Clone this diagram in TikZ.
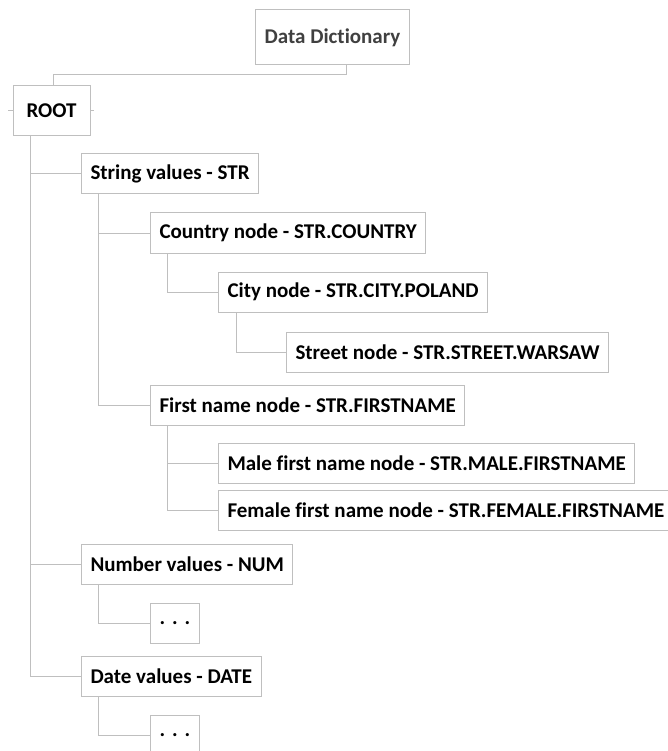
\documentclass[tikz,border=0pt]{standalone}
\usepackage{fontspec}
\setmainfont{Carlito}[Ligatures=NoCommon]
\definecolor{linegray}{HTML}{BFBFBF}
\definecolor{titlegray}{HTML}{404040}
\tikzset{
  box/.style={draw=linegray, fill=white, line width=1pt, font=\fontsize{21}{25}\selectfont\bfseries,
    inner xsep=9pt, minimum height=40pt, anchor=west},
  link/.style={draw=linegray, line width=1pt}
}
\begin{document}
\begin{tikzpicture}[x=1pt,y=-1pt]
    \useasboundingbox (0,0) rectangle (668,751);

    % tree nodes
    \node[box, anchor=center, minimum width=141pt, minimum height=55pt, text=titlegray] (dict) at (332.5,37.5) {Data Dictionary};
    \node[box, anchor=center, minimum width=77pt, minimum height=50pt] (root) at (51.5,111) {ROOT};
    \node[box] (str) at (81,174) {String values - STR};
    \node[box] (country) at (150,233) {Country node - STR.COUNTRY};
    \node[box] (city) at (218,292) {City node - STR.CITY.POLAND};
    \node[box] (street) at (286,352) {Street node - STR.STREET.WARSAW};
    \node[box] (first) at (150,405) {First name node - STR.FIRSTNAME};
    \node[box] (male) at (218,463) {Male first name node - STR.MALE.FIRSTNAME};
    \node[box] (female) at (218,510) {Female first name node - STR.FEMALE.FIRSTNAME};
    \node[box] (num) at (81,564) {Number values - NUM};
    \node[box, minimum width=43pt] (numdots) at (150,623) {.\,\,.\,\,.};
    \node[box] (date) at (81,676) {Date values - DATE};
    \node[box, minimum width=43pt] (datedots) at (150,735) {.\,\,.\,\,.};

    % connectors
    \draw[link] ([xshift=13.5pt]dict.south) -- ++(0,9) -| ([xshift=1.5pt]root.north);
    \draw[link] (root.west) -- ++(-5,0);
    \draw[link] (root.east) -- ++(3,0);
    \foreach \child in {str,num,date}
        \draw[link] ([xshift=18pt]root.south west) |- (\child.west);
    \foreach \child in {country,first}
        \draw[link] ([xshift=17pt]str.south west) |- (\child.west);
    \draw[link] ([xshift=17pt]country.south west) |- (city.west);
    \draw[link] ([xshift=18pt]city.south west) |- (street.west);
    \foreach \child in {male,female}
        \draw[link] ([xshift=17pt]first.south west) |- (\child.west);
    \draw[link] ([xshift=17pt]num.south west) |- (numdots.west);
    \draw[link] ([xshift=17pt]date.south west) |- (datedots.west);
\end{tikzpicture}
\end{document}
